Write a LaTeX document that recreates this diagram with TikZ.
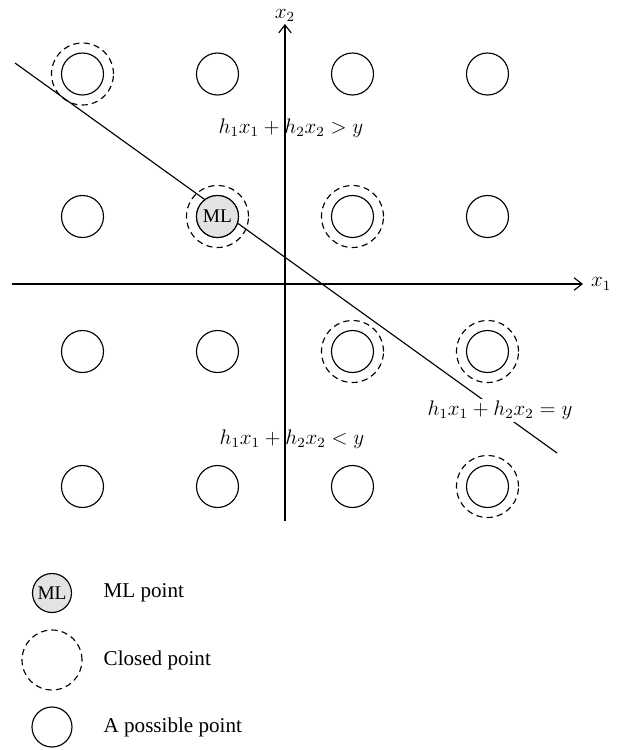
\documentclass[tikz,border=0pt]{standalone}
\usepackage{fontspec}
\setmainfont{Liberation Serif}
\usetikzlibrary{arrows.meta,positioning}

\begin{document}
\begin{tikzpicture}[
  possible/.style={circle,draw,line width=0.65pt,minimum size=0.84cm,inner sep=0pt},
  closed/.style={circle,draw,line width=0.65pt,dash pattern=on 3.5pt off 2.4pt,
    minimum size=1.24cm,inner sep=0pt},
  mlpt/.style={possible,fill=gray!22,font=\fontsize{11}{13}\selectfont},
  axis/.style={-{Straight Barb[length=4.5pt,width=7pt]},line width=0.65pt},
  lbl/.style={font=\fontsize{12}{14}\selectfont},
]
  \useasboundingbox (-5.7,5.68) rectangle (6.74,-9.32);

  % Axes
  \coordinate (x1l) at (-5.46,0);
  \coordinate (x1r) at (5.96,0);
  \coordinate (x2b) at (0,-4.74);
  \coordinate (x2t) at (0,5.2);
  \draw[axis] (x1l) -- (x1r) node[lbl,right=1pt] (x1lbl) {$x_1$};
  \draw[axis] (x2b) -- (x2t) node[lbl,above=1pt,inner sep=0pt] (x2lbl) {$x_2$};

  % Decision line
  \coordinate (hs) at (-5.4,4.42);
  \coordinate (he) at (5.44,-3.38);
  \draw[line width=0.65pt] (hs) -- (he);
  \node[lbl,fill=white,inner sep=1pt] (eqlbl) at (4.3,-2.53) {$h_1x_1 + h_2x_2 = y$};
  \node[lbl] (gtlbl) at (0.12,3.12) {$h_1x_1 + h_2x_2 > y$};
  \node[lbl] (ltlbl) at (0.14,-3.1) {$h_1x_1 + h_2x_2 < y$};

  % Lattice points
  \foreach \x [count=\i] in {-4.05,-1.35,1.35,4.05}
    \foreach \y [count=\j] in {4.2,1.35,-1.35,-4.05}
      \node[possible] (p\i\j) at (\x,\y) {};
  \node[mlpt] (ml) at (p22.center) {ML};

  % Closed points
  \foreach \p in {11,22,32,33,43,44}
    \node[closed] (c\p) at (p\p.center) {};

  % Legend
  \node[mlpt,minimum size=0.78cm] (lgml) at (-4.66,-6.18) {ML};
  \node[closed,minimum size=1.2cm] (lgcl) at (-4.66,-7.52) {};
  \node[possible,minimum size=0.8cm] (lgpo) at (-4.66,-8.86) {};
  \node[lbl,anchor=west] (tml) at (-3.75,-6.18) {ML point};
  \node[lbl,anchor=west] (tcl) at (-3.75,-7.52) {Closed point};
  \node[lbl,anchor=west] (tpo) at (-3.75,-8.86) {A possible point};
\end{tikzpicture}
\end{document}
